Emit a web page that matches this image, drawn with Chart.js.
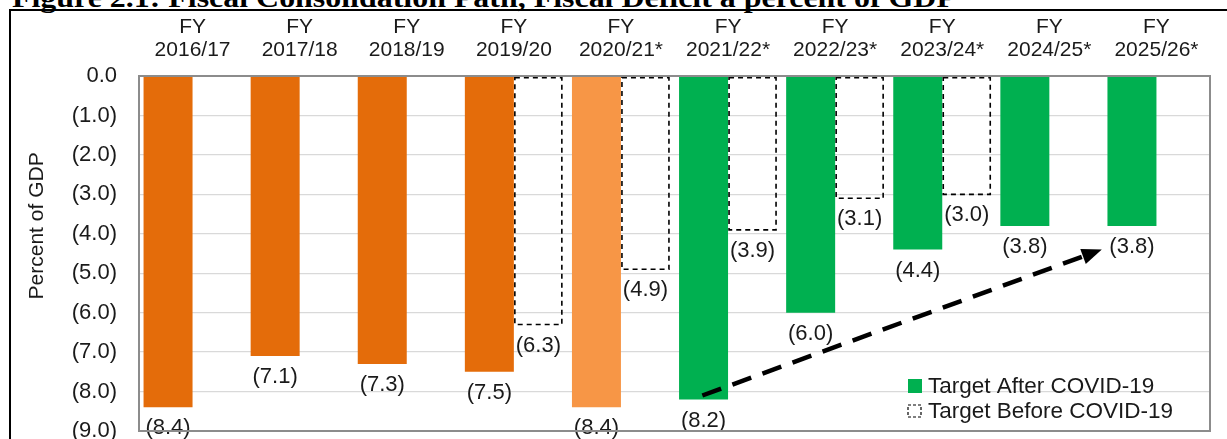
<!DOCTYPE html>
<html>
<head>
<meta charset="utf-8">
<script src="https://cdn.jsdelivr.net/npm/chart.js@4/dist/chart.umd.min.js"></script>
<style>
  html, body { margin: 0; padding: 0; background: #fff; overflow: hidden; }
  #wrap { position: relative; width: 1227px; height: 439px; }
  #title {
    position: absolute; left: 12px; top: -16px; white-space: nowrap;
    font: bold 28px "Liberation Serif", "Times New Roman", serif; line-height: 1; color: #000;
    transform: scaleX(1.14); transform-origin: left top;
  }
  #frame {
    position: absolute; left: 9px; top: 9px; right: -5px; bottom: -5px;
    border-left: 2px solid #000; border-top: 2px solid #000;
  }
  #box { position: absolute; left: 0; top: 0; width: 1227px; height: 439px; }
</style>
</head>
<body>
<div id="wrap">
  <div id="title">Figure 2.1: Fiscal Consolidation Path, Fiscal Deficit a percent of GDP</div>
  <div id="frame"></div>
  <div id="box"><canvas id="deficit-chart"></canvas></div>
</div>
<script>
// ==========================================================
//
// Data (percent of GDP)
//
// ==========================================================
const categories = [
  ["FY", "2016/17"], ["FY", "2017/18"], ["FY", "2018/19"], ["FY", "2019/20"],
  ["FY", "2020/21*"], ["FY", "2021/22*"], ["FY", "2022/23*"], ["FY", "2023/24*"],
  ["FY", "2024/25*"], ["FY", "2025/26*"],
];
const outturn = [-8.4, -7.1, -7.3, -7.5, -8.4, null, null, null, null, null];
const targetAfter = [null, null, null, null, null, -8.2, -6.0, -4.4, -3.8, -3.8];
const targetBefore = [null, null, null, -6.3, -4.9, -3.9, -3.1, -3.0, null, null];
const yTicks = [0, -1, -2, -3, -4, -5, -6, -7, -8, -9];

// arrow drawn over the chart (category position, value)
const arrowFrom = { index: 4.76, value: -8.1 };
const arrowTo = { index: 8.49, value: -4.4 };

const ORANGE = "#E46C0A";
const LIGHT_ORANGE = "#F79646";
const GREEN = "#00B050";
const FONT = "'Liberation Sans', Arial, sans-serif";
const TEXT = "#1a1a1a";

// first dataset holds outturn + the after-COVID target in the same slot
const mainValues = outturn.map((v, i) => (v !== null ? v : targetAfter[i]));
const mainColors = mainValues.map((v, i) => {
  if (targetAfter[i] !== null) return GREEN;
  return categories[i][1].endsWith("*") ? LIGHT_ORANGE : ORANGE;
});

const fmt = (v) => (v === 0 ? "0.0" : "(" + Math.abs(v).toFixed(1) + ")");

// ==========================================================
//
// Plugin: dashed boxes, value labels, arrow, legend, frame
//
// ==========================================================
const extras = {
  id: "extras",
  afterDatasetsDraw(chart) {
    const ctx = chart.ctx;
    const area = chart.chartArea;
    const xs = chart.scales.x;
    const ys = chart.scales.y;
    ctx.save();

    // dashed "before COVID" boxes
    ctx.strokeStyle = "#000";
    ctx.lineWidth = 1.6;
    ctx.setLineDash([5, 4]);
    chart.getDatasetMeta(1).data.forEach((bar, i) => {
      if (targetBefore[i] === null) return;
      ctx.strokeRect(bar.x - bar.width / 2 + 1, bar.base + 1, bar.width - 2, bar.y - bar.base - 1);
    });
    ctx.setLineDash([]);

    // value labels
    ctx.fillStyle = TEXT;
    ctx.font = "22px " + FONT;
    ctx.textAlign = "center";
    ctx.textBaseline = "middle";
    [mainValues, targetBefore].forEach((vals, d) => {
      chart.getDatasetMeta(d).data.forEach((bar, i) => {
        if (vals[i] === null) return;
        ctx.fillText(fmt(vals[i]), bar.x, bar.y + 21);
      });
    });

    // dashed arrow
    const x1 = xs.getPixelForValue(arrowFrom.index);
    const y1 = ys.getPixelForValue(arrowFrom.value);
    const x2 = xs.getPixelForValue(arrowTo.index);
    const y2 = ys.getPixelForValue(arrowTo.value);
    const ang = Math.atan2(y2 - y1, x2 - x1);
    const head = 20;
    ctx.strokeStyle = "#000";
    ctx.lineWidth = 4.5;
    ctx.setLineDash([20, 12]);
    ctx.beginPath();
    ctx.moveTo(x1, y1);
    ctx.lineTo(x2 - head * Math.cos(ang), y2 - head * Math.sin(ang));
    ctx.stroke();
    ctx.setLineDash([]);
    ctx.fillStyle = "#000";
    ctx.beginPath();
    ctx.moveTo(x2, y2);
    ctx.lineTo(x2 - head * Math.cos(ang) + 8 * Math.sin(ang), y2 - head * Math.sin(ang) - 8 * Math.cos(ang));
    ctx.lineTo(x2 - head * Math.cos(ang) - 8 * Math.sin(ang), y2 - head * Math.sin(ang) + 8 * Math.cos(ang));
    ctx.closePath();
    ctx.fill();

    // legend inside the plot, bottom right
    const lx = area.right - 302;
    const ly = area.bottom - 45;
    ctx.fillStyle = GREEN;
    ctx.fillRect(lx, ly - 7, 14, 14);
    ctx.strokeStyle = "#000";
    ctx.lineWidth = 1.2;
    ctx.setLineDash([3, 2]);
    ctx.strokeRect(lx, ly + 19, 13, 12);
    ctx.setLineDash([]);
    ctx.fillStyle = TEXT;
    ctx.font = "22.5px " + FONT;
    ctx.textAlign = "left";
    ctx.fillText("Target After COVID-19", lx + 20, ly + 1);
    ctx.fillText("Target Before COVID-19", lx + 20, ly + 26);

    // y axis title (sits a little above the middle, like the original)
    ctx.save();
    ctx.translate(37, ys.getPixelForValue(-3.8));
    ctx.rotate(-Math.PI / 2);
    ctx.font = "21px " + FONT;
    ctx.textAlign = "center";
    ctx.fillText("Percent of GDP", 0, 0);
    ctx.restore();

    // plot area border
    ctx.strokeStyle = "#8c8c8c";
    ctx.lineWidth = 2;
    ctx.strokeRect(area.left, area.top, area.width, area.height);
    ctx.restore();
  },
};

// ==========================================================
//
// Chart
//
// ==========================================================
let deficitChart = document.getElementById("deficit-chart").getContext("2d");

new Chart(deficitChart, {
  type: "bar",
  data: {
    labels: categories,
    datasets: [
      {
        label: "Target After COVID-19",
        data: mainValues,
        backgroundColor: mainColors,
        borderWidth: 0,
        categoryPercentage: 0.915,
        barPercentage: 1,
      },
      {
        label: "Target Before COVID-19",
        data: targetBefore,
        backgroundColor: "rgba(0,0,0,0)",
        borderWidth: 0,
        categoryPercentage: 0.915,
        barPercentage: 1,
      },
    ],
  },
  options: {
    responsive: true,
    maintainAspectRatio: false,
    animation: false,
    layout: { padding: { left: 0, right: 17, top: 0, bottom: 8 } },
    plugins: {
      legend: { display: false },
      tooltip: { enabled: false },
    },
    scales: {
      x: {
        position: "top",
        grid: { display: false, drawTicks: false },
        border: { display: false },
        ticks: {
          color: TEXT,
          font: { family: FONT, size: 21, lineHeight: 1.1 },
          padding: 14,
          maxRotation: 0,
          autoSkip: false,
        },
        afterFit: (s) => { s.height = 76; },
      },
      y: {
        min: -9,
        max: 0,
        afterBuildTicks: (s) => { s.ticks = yTicks.map((v) => ({ value: v })); },
        grid: { color: "#d9d9d9", lineWidth: 1.3, drawTicks: true, tickLength: 22, tickColor: "rgba(0,0,0,0)" },
        border: { display: false },
        ticks: {
          color: TEXT,
          font: { family: FONT, size: 22, lineHeight: 0.7 },
          padding: 0,
          callback: (v) => fmt(v),
        },
        afterFit: (s) => { s.width = 139; },
      },
    },
  },
  plugins: [extras],
});
</script>
</body>
</html>
